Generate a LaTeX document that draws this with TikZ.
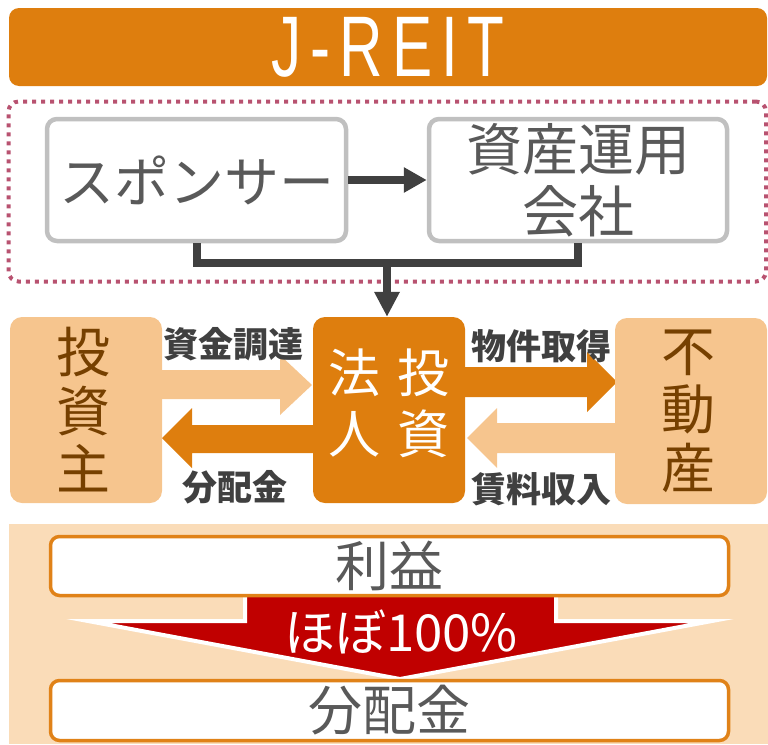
\documentclass[tikz,border=0pt]{standalone}
\usepackage{fontspec}
\setmainfont{Noto Sans CJK JP}
\newfontfamily\jp{Noto Sans CJK JP}
\newfontfamily\reitfont[LetterSpace=15]{Liberation Sans}
\usetikzlibrary{arrows.meta}
\definecolor{orng}{HTML}{DE7E0E}
\definecolor{lorng}{HTML}{F6C58E}
\definecolor{brn}{HTML}{764000}
\definecolor{txtgray}{HTML}{595959}
\definecolor{conngray}{HTML}{404040}
\definecolor{boxgray}{HTML}{C0C0C0}
\definecolor{dotrose}{HTML}{B85270}
\definecolor{peach}{HTML}{FADCB8}
\definecolor{redarr}{HTML}{C00000}
\definecolor{boxorng}{HTML}{E08218}
\begin{document}
\begin{tikzpicture}[x=1pt,y=-1pt,
  gbox/.style={draw=boxgray, line width=4.5pt, rounded corners=10pt, fill=white,
    text=txtgray, inner sep=0pt, align=center},
  obox/.style={draw=boxorng, line width=3.5pt, rounded corners=9pt, fill=white,
    text=txtgray, inner sep=0pt, minimum width=678pt,
    font=\jp\fontsize{54}{58}\selectfont},
  midbox/.style={rounded corners=12pt, minimum width=152pt, minimum height=186pt,
    inner sep=0pt, align=center},
  conn/.style={draw=conngray, line width=8pt},
  lbl/.style={text=conngray, inner sep=0pt, font=\jp\bfseries\fontsize{35}{40}\selectfont},
  vtext/.style={font=\jp\fontsize{54}{58.5}\selectfont}
]
\useasboundingbox (0,0) rectangle (768,744);

% top banner
\node[fill=orng, rounded corners=10pt, minimum width=758pt, minimum height=78pt,
  inner sep=0pt, text=white] (banner) at (388,47)
  {\raisebox{-3pt}{\scalebox{0.7}[1]{\reitfont\fontsize{86}{86}\selectfont J-REIT}}};

% dotted group
\node[draw=dotrose, line width=4pt, dash pattern=on 4pt off 5pt, rounded corners=10pt,
  minimum width=757.5pt, minimum height=180pt] (group) at (387.25,191.5) {};

\node[gbox, minimum width=299pt, minimum height=122pt,
  font=\jp\fontsize{55}{58}\selectfont] (sponsor) at (196.5,180) {スポンサー};
\node[gbox, minimum width=298pt, minimum height=122pt,
  font=\jp\fontsize{56}{62}\selectfont] (asset) at (578,180) {資産運用\\会社};

\draw[conn, -{Triangle[length=23pt,width=24pt]}] (sponsor.east) -- (asset.west);
\coordinate (j) at (387,263);
\draw[conn] (sponsor.south) |- (j) -| (asset.south);

% block arrows (under boxes)
\fill[lorng] (150,370) -- (280,370) -- (280,355) -- (312,385) -- (280,415) -- (280,399) -- (150,399) -- cycle;
\fill[orng] (330,425) -- (192,425) -- (192,408) -- (162,438) -- (192,468) -- (192,453) -- (330,453) -- cycle;
\fill[orng] (450,367) -- (587,367) -- (587,352) -- (617,382) -- (587,412) -- (587,397) -- (450,397) -- cycle;
\fill[lorng] (630,423) -- (497,423) -- (497,408) -- (467,438) -- (497,468) -- (497,453) -- (630,453) -- cycle;

% middle boxes
\node[midbox, fill=lorng, text=brn, vtext] (investor) at (86,410) {\hspace*{-6pt}投\\\hspace*{-6pt}資\\\hspace*{-6pt}主};
\node[midbox, fill=orng, text=white] (toushi) at (389,410)
  {\jp\fontsize{52}{59}\selectfont\begin{tabular}{@{}c@{\hspace{17pt}}c@{}}法&投\\人&資\end{tabular}};
\node[midbox, fill=lorng, text=brn, vtext] (fudousan) at (691,411) {\hspace*{-6pt}不\\\hspace*{-6pt}動\\\hspace*{-6pt}産};

\draw[conn, -{Triangle[length=25pt,width=24pt]}] (j) -- (j |- toushi.north);

% labels
\node[lbl] (l1) at (233,344) {資金調達};
\node[lbl] (l2) at (235,487) {分配金};
\node[lbl] (l3) at (541,346) {物件取得};
\node[lbl] (l4) at (541,489) {賃料収入};

% bottom panel
\fill[peach] (9,524) rectangle (768,744);
\filldraw[fill=redarr, draw=white, line width=4pt, line join=miter, miter limit=12]
  (245,590) -- (245,621) -- (88,621) -- (400,679) -- (712,621) -- (556,621) -- (556,590) -- cycle;
\node[text=white, inner sep=0pt, font=\jp\fontsize{51}{54}\selectfont] (pct) at (401,632) {ほぼ100\%};
\node[obox, minimum height=59pt] (rieki) at (389.5,566) {利益};
\node[obox, minimum height=60pt] (haito) at (389.5,710.5) {\raisebox{-3pt}{分配金}};
\end{tikzpicture}
\end{document}
